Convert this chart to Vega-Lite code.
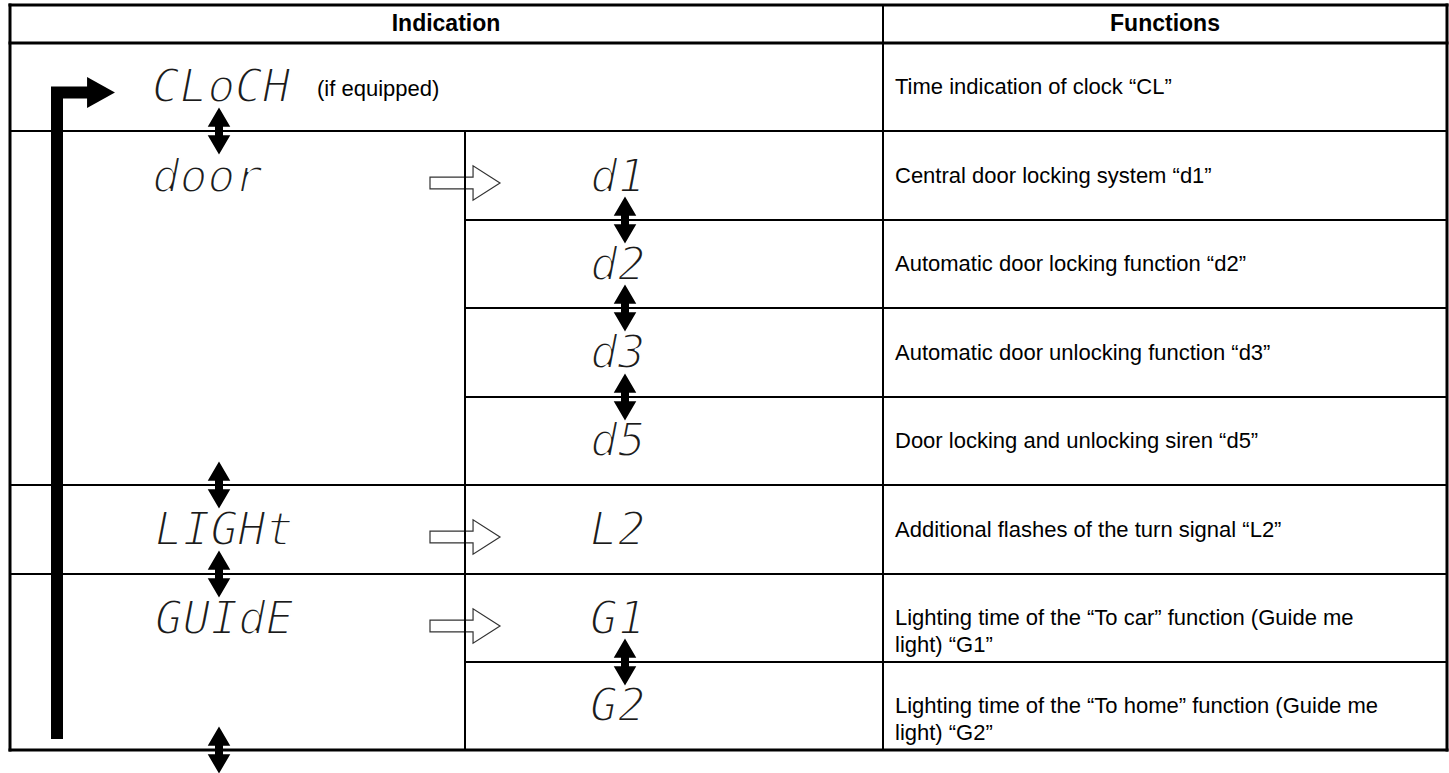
{
  "$schema": "https://vega.github.io/schema/vega-lite/v6.json",
  "width": 1449,
  "height": 773,
  "padding": 0,
  "autosize": {"type": "none"},
  "background": "white",
  "config": {"view": {"stroke": null}},
  "datasets": {
    "hollowArrows": [
      {"row": "door", "x": 465, "y": 183},
      {"row": "LIGHt", "x": 465, "y": 537},
      {"row": "GUIdE", "x": 465, "y": 626}
    ],
    "frameLines": [
      {"x1": 10, "x2": 1447, "y1": 5, "y2": 5},
      {"x1": 10, "x2": 1447, "y1": 43, "y2": 43},
      {"x1": 10, "x2": 1447, "y1": 750, "y2": 750},
      {"x1": 10, "x2": 10, "y1": 5, "y2": 750},
      {"x1": 1447, "x2": 1447, "y1": 5, "y2": 750}
    ],
    "innerLines": [
      {"x1": 10, "x2": 1447, "y1": 131, "y2": 131},
      {"x1": 465, "x2": 1447, "y1": 220, "y2": 220},
      {"x1": 465, "x2": 1447, "y1": 308, "y2": 308},
      {"x1": 465, "x2": 1447, "y1": 397, "y2": 397},
      {"x1": 10, "x2": 1447, "y1": 485, "y2": 485},
      {"x1": 10, "x2": 1447, "y1": 574, "y2": 574},
      {"x1": 465, "x2": 1447, "y1": 662, "y2": 662},
      {"x1": 883, "x2": 883, "y1": 5, "y2": 750},
      {"x1": 465, "x2": 465, "y1": 131, "y2": 750}
    ],
    "loop": [
      {"i": 1, "x": 57, "y": 739},
      {"i": 2, "x": 57, "y": 92.5},
      {"i": 3, "x": 90, "y": 92.5}
    ],
    "loopHead": [{"x": 101, "y": 92.5}],
    "doubleArrows": [
      {"x": 219, "y": 131},
      {"x": 219, "y": 485},
      {"x": 219, "y": 574},
      {"x": 219, "y": 750},
      {"x": 625, "y": 220},
      {"x": 625, "y": 308},
      {"x": 625, "y": 397},
      {"x": 625, "y": 662}
    ],
    "glyphs": [
      {"label": "CLoCH", "x": 152, "y": 88},
      {"label": "door", "x": 152, "y": 178},
      {"label": "d1", "x": 590, "y": 178},
      {"label": "d2", "x": 590, "y": 266},
      {"label": "d3", "x": 590, "y": 354},
      {"label": "d5", "x": 590, "y": 442},
      {"label": "LIGHt", "x": 155, "y": 531},
      {"label": "L2", "x": 590, "y": 531},
      {"label": "GUIdE", "x": 155, "y": 620},
      {"label": "G1", "x": 590, "y": 620},
      {"label": "G2", "x": 590, "y": 707}
    ],
    "headers": [
      {"label": "Indication", "x": 446, "y": 24},
      {"label": "Functions", "x": 1165, "y": 24}
    ],
    "functions": [
      {"label": "Time indication of clock “CL”", "x": 895, "y": 87},
      {"label": "Central door locking system “d1”", "x": 895, "y": 175.5},
      {"label": "Automatic door locking function “d2”", "x": 895, "y": 264},
      {"label": "Automatic door unlocking function “d3”", "x": 895, "y": 352.5},
      {"label": "Door locking and unlocking siren “d5”", "x": 895, "y": 441},
      {"label": "Additional flashes of the turn signal “L2”", "x": 895, "y": 529.5},
      {"label": "Lighting time of the “To car” function (Guide me\nlight) “G1”", "x": 895, "y": 618},
      {"label": "Lighting time of the “To home” function (Guide me\nlight) “G2”", "x": 895, "y": 706}
    ],
    "notes": [
      {"label": "(if equipped)", "x": 317, "y": 89}
    ]
  },
  "layer": [
    {
      "data": {"name": "hollowArrows"},
      "mark": {
        "type": "point",
        "shape": "M-1,-0.17 L0.23,-0.17 L0.23,-0.49 L1,0 L0.23,0.49 L0.23,0.17 L-1,0.17 Z",
        "size": 4900,
        "filled": true,
        "fill": "white",
        "stroke": "#333333",
        "strokeWidth": 1.2,
        "opacity": 1
      },
      "encoding": {
        "x": {"field": "x", "type": "quantitative", "scale": {"domain": [0, 1449], "nice": false, "zero": false}, "axis": null},
        "y": {"field": "y", "type": "quantitative", "scale": {"domain": [0, 773], "nice": false, "zero": false, "reverse": true}, "axis": null}
      }
    },
    {
      "data": {"name": "innerLines"},
      "mark": {"type": "rule", "color": "black", "strokeWidth": 2, "strokeCap": "square"},
      "encoding": {
        "x": {"field": "x1", "type": "quantitative"},
        "x2": {"field": "x2"},
        "y": {"field": "y1", "type": "quantitative"},
        "y2": {"field": "y2"}
      }
    },
    {
      "data": {"name": "frameLines"},
      "mark": {"type": "rule", "color": "black", "strokeWidth": 3, "strokeCap": "square"},
      "encoding": {
        "x": {"field": "x1", "type": "quantitative"},
        "x2": {"field": "x2"},
        "y": {"field": "y1", "type": "quantitative"},
        "y2": {"field": "y2"}
      }
    },
    {
      "data": {"name": "loop"},
      "mark": {"type": "line", "color": "black", "strokeWidth": 12, "strokeCap": "butt", "strokeJoin": "miter"},
      "encoding": {
        "x": {"field": "x", "type": "quantitative"},
        "y": {"field": "y", "type": "quantitative"},
        "order": {"field": "i"}
      }
    },
    {
      "data": {"name": "loopHead"},
      "mark": {"type": "point", "shape": "M-0.9,-1 L0.9,0 L-0.9,1 Z", "size": 961, "filled": true, "color": "black", "opacity": 1},
      "encoding": {
        "x": {"field": "x", "type": "quantitative"},
        "y": {"field": "y", "type": "quantitative"}
      }
    },
    {
      "data": {"name": "doubleArrows"},
      "mark": {
        "type": "point",
        "shape": "M0,-1 L0.48,-0.18 L0.17,-0.18 L0.17,0.18 L0.48,0.18 L0,1 L-0.48,0.18 L-0.17,0.18 L-0.17,-0.18 L-0.48,-0.18 Z",
        "size": 2209,
        "filled": true,
        "color": "black",
        "opacity": 1
      },
      "encoding": {
        "x": {"field": "x", "type": "quantitative"},
        "y": {"field": "y", "type": "quantitative"}
      }
    },
    {
      "data": {"name": "glyphs"},
      "mark": {"type": "text", "align": "left", "baseline": "middle", "font": "DejaVu Sans Mono", "fontStyle": "italic", "fontSize": 46, "fill": "#1a1a1a", "stroke": "white", "strokeWidth": 2},
      "encoding": {
        "x": {"field": "x", "type": "quantitative"},
        "y": {"field": "y", "type": "quantitative"},
        "text": {"field": "label"}
      }
    },
    {
      "data": {"name": "headers"},
      "mark": {"type": "text", "align": "center", "baseline": "middle", "font": "Liberation Sans", "fontWeight": "bold", "fontSize": 23, "color": "black"},
      "encoding": {
        "x": {"field": "x", "type": "quantitative"},
        "y": {"field": "y", "type": "quantitative"},
        "text": {"field": "label"}
      }
    },
    {
      "data": {"name": "functions"},
      "mark": {"type": "text", "align": "left", "baseline": "middle", "font": "Liberation Sans", "fontSize": 22, "lineHeight": 27, "lineBreak": "\n", "color": "black"},
      "encoding": {
        "x": {"field": "x", "type": "quantitative"},
        "y": {"field": "y", "type": "quantitative"},
        "text": {"field": "label"}
      }
    },
    {
      "data": {"name": "notes"},
      "mark": {"type": "text", "align": "left", "baseline": "middle", "font": "Liberation Sans", "fontSize": 22, "color": "black"},
      "encoding": {
        "x": {"field": "x", "type": "quantitative"},
        "y": {"field": "y", "type": "quantitative"},
        "text": {"field": "label"}
      }
    }
  ]
}
